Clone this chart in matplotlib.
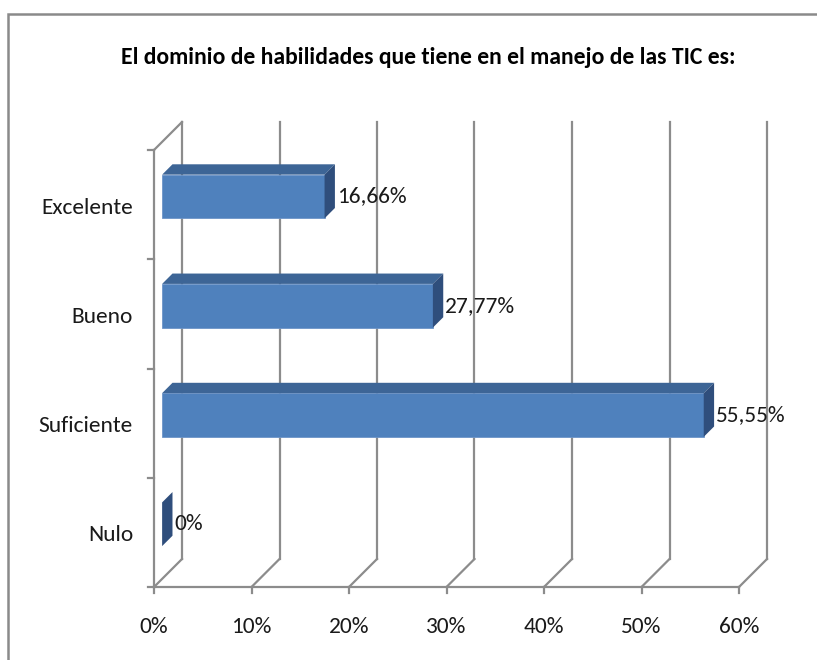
import numpy as np
import matplotlib
matplotlib.use("Agg")
from matplotlib import pyplot as plt
from matplotlib.patches import Polygon, Rectangle

plt.rcParams['font.family'] = ['Carlito', 'DejaVu Sans']

# data
categories = ["Nulo", "Suficiente", "Bueno", "Excelente"]
values = [0.0, 55.55, 27.77, 16.66]
value_labels = ["0%", "55,55%", "27,77%", "16,66%"]
x_ticks = [0, 10, 20, 30, 40, 50, 60]
x_tick_labels = ["0%", "10%", "20%", "30%", "40%", "50%", "60%"]
title = "El dominio de habilidades que tiene en el manejo de las TIC es:"

# 3d look: pixel scale of the plot
px_per_pct = 9.75
px_per_cat = 109.25
x0_px, y0_px = 154, 587
W, H = 817, 660
dxp = 28 / px_per_pct      # depth offset in percent units
dyc = 28 / px_per_cat      # depth offset in category units
d0, d1 = 0.29, 0.66        # bar depth range
bar_h = 0.40

grid_c = "#8c8c8c"
front_c = "#4F81BD"
top_c = "#3D6596"
side_c = "#2F4E7C"
txt_c = "#1a1a1a"
fs = 16.8

fig = plt.figure(figsize=(W / 100, H / 100), dpi=100)
ax = fig.add_axes([0, 0, 1, 1])
ax.set_xlim(-x0_px / px_per_pct, (W - x0_px) / px_per_pct)
ax.set_ylim((y0_px - H) / px_per_cat, y0_px / px_per_cat)
ax.axis("off")

ncat = len(categories)
xmax = x_ticks[-1]

# back wall gridlines and floor
for t in x_ticks:
    ax.plot([t + dxp, t + dxp], [dyc, ncat + dyc], color=grid_c, lw=1.6, zorder=1)
    ax.plot([t, t + dxp], [0, dyc], color=grid_c, lw=1.6, zorder=1)
    ax.plot([t, t], [0, -6 / px_per_cat], color=grid_c, lw=1.6, zorder=1)
ax.plot([0, xmax], [0, 0], color=grid_c, lw=1.6, zorder=1)

# left wall
ax.plot([0, 0], [0, ncat], color=grid_c, lw=1.6, zorder=1)
ax.plot([0, dxp], [ncat, ncat + dyc], color=grid_c, lw=1.6, zorder=1)
for k in range(ncat + 1):
    ax.plot([0, -6 / px_per_pct], [k, k], color=grid_c, lw=1.6, zorder=1)

# bars
ys = np.arange(ncat) + 0.5
for i, (y, v) in enumerate(zip(ys, values)):
    yf = y + d0 * dyc
    xs = d0 * dxp
    ddx = (d1 - d0) * dxp
    ddy = (d1 - d0) * dyc
    if v > 0:
        ax.barh(yf, v, left=xs, height=bar_h, color=front_c,
                edgecolor="#6d95c8", lw=0.6, zorder=3)
        top = Polygon([(xs, yf + bar_h / 2), (xs + v, yf + bar_h / 2),
                       (xs + v + ddx, yf + bar_h / 2 + ddy),
                       (xs + ddx, yf + bar_h / 2 + ddy)],
                      closed=True, fc=top_c, ec="none", zorder=3)
        ax.add_patch(top)
    side = Polygon([(xs + v, yf - bar_h / 2), (xs + v + ddx, yf - bar_h / 2 + ddy),
                    (xs + v + ddx, yf + bar_h / 2 + ddy), (xs + v, yf + bar_h / 2)],
                   closed=True, fc=side_c, ec="none", zorder=3)
    ax.add_patch(side)
    ax.text(xs + v + ddx + 2 / px_per_pct, yf, value_labels[i],
            ha="left", va="center", fontsize=fs, color=txt_c, zorder=4)

# category labels
for y, c in zip(ys, categories):
    ax.text(-21 / px_per_pct, y - 3 / px_per_cat, c, ha="right", va="center",
            fontsize=fs, color=txt_c)

# x tick labels
for t, lab in zip(x_ticks, x_tick_labels):
    ax.text(t, -40 / px_per_cat, lab, ha="center", va="center",
            fontsize=fs, color=txt_c)

fig.text(428 / W, 1 - 58 / H, title, ha="center", va="center",
         fontsize=17, fontweight="bold", color="black")

# chart frame
fig.patches.append(Rectangle((8 / W, -0.1), 1.2, 1.1 - 14 / H,
                             transform=fig.transFigure, fill=False,
                             ec="#8a8a8a", lw=1.8))

fig.savefig("out.png", dpi=100, facecolor="white")
